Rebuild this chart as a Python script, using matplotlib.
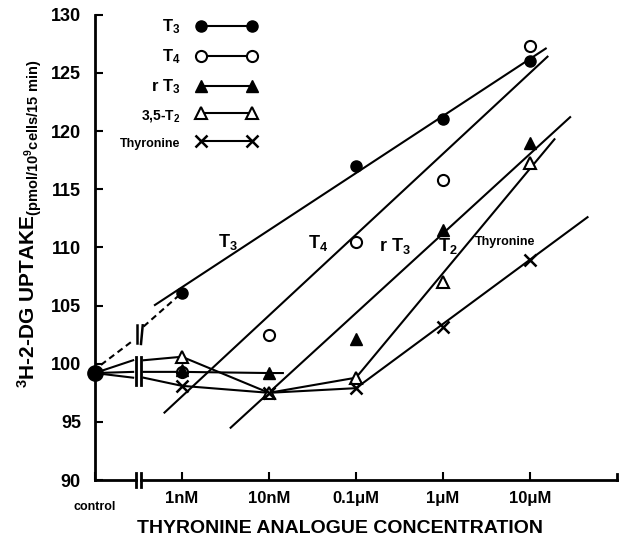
import numpy as np
import matplotlib
matplotlib.use("Agg")
import matplotlib.pyplot as plt
from matplotlib.lines import Line2D

plt.rcParams['font.family'] = ['Liberation Sans', 'DejaVu Sans']
plt.rcParams['font.weight'] = 'bold'
plt.rcParams['mathtext.fontset'] = 'custom'
plt.rcParams['mathtext.rm'] = 'Liberation Sans:bold'
plt.rcParams['mathtext.it'] = 'Liberation Sans:bold'

# x positions: 0 = control, 1 = 1nM ... 5 = 10uM
conc = [1, 2, 3, 4, 5]
tick_labels = ['control', '1nM', '10nM', '0.1\u03bcM', '1\u03bcM', '10\u03bcM']
control_val = 99.2

t3 = [106.1, np.nan, 117.0, 121.0, 126.0]
t4 = [99.3, 102.5, 110.5, 115.8, 127.3]
rt3 = [99.5, 99.2, 102.1, 111.5, 119.0]
t2 = [100.6, 97.5, 98.8, 107.0, 117.3]
thyronine = [98.1, 97.5, 97.9, 103.2, 108.9]

# fitted / drawn lines (x, y end points)
t3_fit = ([0.69, 5.18], [105.05, 127.1])
t4_fit = ([0.80, 5.20], [95.8, 126.4])
rt3_fit = ([1.56, 5.46], [94.5, 121.2])
t2_fit = ([3.0, 5.28], [98.8, 119.3])
thy_fit = ([3.0, 5.66], [97.9, 112.6])

fig = plt.figure(figsize=(6.24, 5.48), dpi=100)
ax = fig.add_axes([0.152, 0.124, 0.837, 0.849])
lw = 1.5
k = 'black'

# control to break
brk = 0.5
for yv in [100.3, 99.3, 98.8]:
    ax.plot([0, brk - 0.06], [control_val, yv], color=k, lw=lw)
ax.plot([0.07, brk - 0.06], [99.9, 102.0], color=k, lw=lw, ls=(0, (3, 2)))
ax.plot([brk + 0.06, 1], [103.2, t3[0]], color=k, lw=lw, ls=(0, (3, 2)))
# break marks
for dx in [-0.03, 0.03]:
    ax.plot([brk + dx, brk + dx], [98.2, 100.6], color=k, lw=2)
ax.plot([brk - 0.02, brk - 0.02], [101.8, 103.3], color=k, lw=1.8)
ax.plot([brk + 0.03, brk + 0.05], [101.7, 103.3], color=k, lw=1.8)

# low concentration connecting lines
ax.plot([brk + 0.06, 1, 2, 3], [100.3, t2[0], t2[1], t2[2]], color=k, lw=lw)
ax.plot([brk + 0.06, 1, 2, 2.16], [99.3, t4[0], rt3[1], 99.2], color=k, lw=lw)
ax.plot([brk + 0.06, 1, 2, 3], [98.8, thyronine[0], thyronine[1], thyronine[2]], color=k, lw=lw)

for fx, fy in [t3_fit, t4_fit, rt3_fit, t2_fit, thy_fit]:
    ax.plot(fx, fy, color=k, lw=lw)

ms = 8
ax.plot(conc, t3, 'o', color=k, ms=ms, ls='none')
ax.plot(conc, t4, 'o', mfc='white', mec=k, mew=1.5, ms=ms, ls='none')
ax.plot(conc, rt3, '^', color=k, ms=ms, ls='none')
ax.plot(conc, t2, '^', mfc='white', mec=k, mew=1.5, ms=ms, ls='none')
ax.plot(conc, thyronine, 'x', color=k, ms=ms, mew=1.8, ls='none')
ax.plot([0], [control_val], 'o', color=k, ms=11, clip_on=False)

# line labels
ax.text(1.53, 110.5, 'T$_3$', fontsize=13, ha='center', va='center')
ax.text(2.56, 110.4, 'T$_4$', fontsize=13, ha='center', va='center')
ax.text(3.45, 110.1, 'r T$_3$', fontsize=13, ha='center', va='center')
ax.text(4.06, 110.1, 'T$_2$', fontsize=13, ha='center', va='center')
ax.text(4.71, 110.5, 'Thyronine', fontsize=9, fontweight='bold', ha='center', va='center')

# axes
ax.set_xlim(0, 6.0)
ax.set_ylim(90, 130)
ax.spines['top'].set_visible(False)
ax.spines['right'].set_visible(False)
ax.spines['bottom'].set_visible(False)
ax.spines['left'].set_linewidth(2)
ax.plot([0, brk - 0.03], [90, 90], color=k, lw=2, clip_on=False)
ax.plot([brk + 0.03, 6.0], [90, 90], color=k, lw=2, clip_on=False)
for dx in [-0.03, 0.03]:
    ax.plot([brk + dx, brk + dx], [89.4, 90.6], color=k, lw=2, clip_on=False)
ax.plot([6.0, 6.0], [90, 90.5], color=k, lw=2, clip_on=False)

ax.set_yticks(np.arange(90, 131, 5))
ax.set_yticklabels([str(v) for v in range(90, 131, 5)], fontsize=13, fontweight='bold')
ax.set_xticks(range(6))
ax.set_xticklabels(tick_labels, fontsize=12, fontweight='bold')
ax.get_xticklabels()[0].set_fontsize(9)
ax.tick_params(axis='both', direction='in', length=6, width=1.5)
ax.tick_params(axis='x', pad=8)
ax.tick_params(axis='y', pad=10)
ax.xaxis.get_major_ticks()[0].set_pad(15)

ax.set_xlabel('THYRONINE ANALOGUE CONCENTRATION', fontsize=14, fontweight='bold')
ax.xaxis.set_label_coords(0.469, -0.085)
ax.set_ylabel(r'$^3$H-2-DG UPTAKE$_{\mathregular{(pmol/10^9 cells/15\ min)}}$', fontsize=15,
              fontweight='bold')
ax.yaxis.set_label_coords(-0.098, 0.55)

handles = [
    Line2D([], [], color=k, lw=lw, marker='o', ms=ms),
    Line2D([], [], color=k, lw=lw, marker='o', mfc='white', mew=1.5, ms=ms),
    Line2D([], [], color=k, lw=lw, marker='^', ms=ms),
    Line2D([], [], color=k, lw=lw, marker='^', mfc='white', mew=1.5, ms=ms),
    Line2D([], [], color=k, lw=lw, marker='x', mew=1.8, ms=ms),
]
labels = ['T$_3$', 'T$_4$', 'r T$_3$', '3,5-T$_2$', 'Thyronine']
leg = ax.legend(handles, labels, loc='upper right', bbox_to_anchor=(0.327, 1.012),
                frameon=False, markerfirst=False, numpoints=2, fontsize=12,
                handlelength=3.7, handletextpad=0.9, labelspacing=0.68, borderpad=0)
for t in leg.get_texts():
    t.set_ha('right')
leg.get_texts()[3].set_fontsize(10)
leg.get_texts()[4].set_fontsize(9)

fig.savefig('out.png', dpi=100)
